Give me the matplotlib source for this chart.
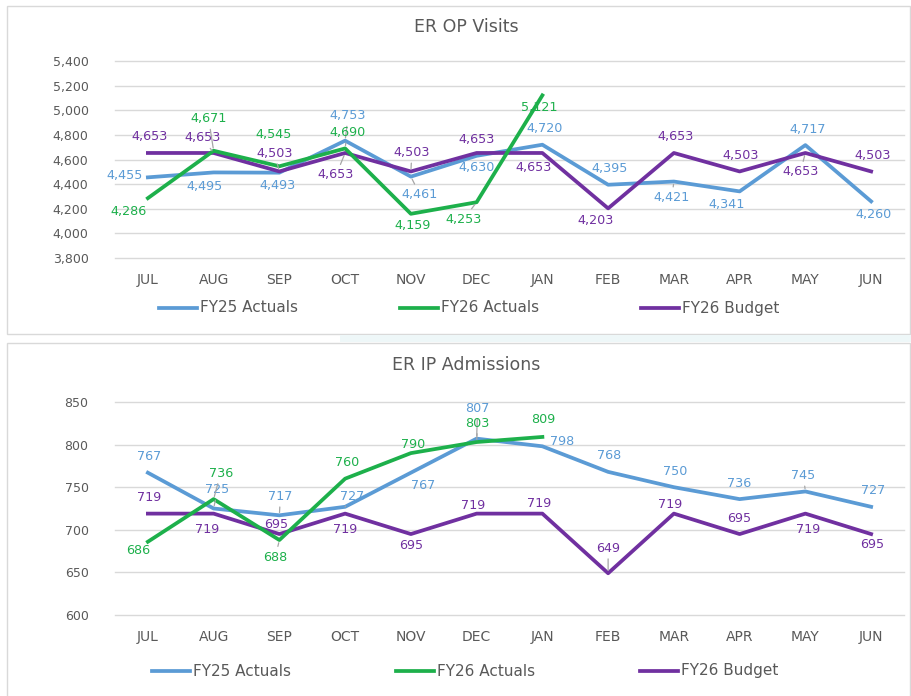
import matplotlib
matplotlib.use('Agg')
import matplotlib.pyplot as plt
from matplotlib.patches import Rectangle
from matplotlib.lines import Line2D

months = ['JUL','AUG','SEP','OCT','NOV','DEC','JAN','FEB','MAR','APR','MAY','JUN']

op_fy25 = [4455,4495,4493,4753,4461,4630,4720,4395,4421,4341,4717,4260]
op_fy26 = [4286,4671,4545,4690,4159,4253,5121]
op_budget = [4653,4653,4503,4653,4503,4653,4653,4203,4653,4503,4653,4503]

ip_fy25 = [767,725,717,727,767,807,798,768,750,736,745,727]
ip_fy26 = [686,736,688,760,790,803,809]
ip_budget = [719,719,695,719,695,719,719,649,719,695,719,695]

op_ticks = [3800,4000,4200,4400,4600,4800,5000,5200,5400]
ip_ticks = [600,650,700,750,800,850]

blue = '#5B9BD5'
green = '#1DB04B'
purple = '#7030A0'
grey = '#595959'

# label offsets in pixels (dx, dy), leaders = indices with a leader line
op_off = {
    'fy25': [(-23,2),(-9,-14),(-2,-13),(3,25),(9,-18),(0,-12),(2,16),(1,16),(-2,-16),(-13,-13),(2,16),(2,-13)],
    'fy26': [(-19,-13),(-5,32),(-6,32),(2,16),(2,-12),(-13,-17),(-3,-12)],
    'bud': [(2,16),(-11,15),(-5,18),(-9,-22),(1,19),(0,13),(-9,-15),(-13,-12),(2,16),(1,16),(-5,-19),(2,16)],
}
op_lead = {'fy25': [3,4,8], 'fy26': [1,3,5], 'bud': [1,2,3,4,10]}

ip_off = {
    'fy25': [(1,16),(4,19),(1,19),(7,10),(12,-13),(1,30),(20,5),(1,16),(1,16),(0,16),(-2,16),(2,16)],
    'fy26': [(-10,-9),(7,26),(-4,-17),(2,16),(2,9),(1,19),(1,17)],
    'bud': [(1,16),(-7,-16),(-3,10),(0,-16),(0,-11),(-3,8),(-3,10),(0,25),(-4,9),(0,16),(3,-16),(1,-10)],
}
ip_lead = {'fy25': [1,2,3,5,10], 'fy26': [1,2,5], 'bud': [7]}

W, H = 912, 696
fig = plt.figure(figsize=(W/100, H/100), dpi=100)
fig.patch.set_facecolor('white')

# panel frames
fig.add_artist(Rectangle((7/W, 1-334/H), 903/W, 328/H, transform=fig.transFigure,
                         fill=False, edgecolor='#D9D9D9', lw=1))
fig.add_artist(Rectangle((340/W, 1-342/H), 572/W, 7/H, transform=fig.transFigure,
                         facecolor='#EEF7F8', edgecolor='none'))
fig.add_artist(Rectangle((7/W, -0.01), 903/W, 1-343/H+0.01, transform=fig.transFigure,
                         fill=False, edgecolor='#D9D9D9', lw=1))


def draw_panel(top_px, bot_px, title, title_y, ticks, fy25, fy26, bud, offs, leads, legend_y, leg_x, fmt):
    ax = fig.add_axes([115/W, 1-bot_px/H, 789/W, (bot_px-top_px)/H])
    x = list(range(len(months)))
    ax.plot(x, fy25, color=blue, lw=2.7, solid_joinstyle='round', zorder=3)
    ax.plot(x[:len(fy26)], fy26, color=green, lw=2.7, solid_joinstyle='round', zorder=4)
    ax.plot(x, bud, color=purple, lw=2.7, solid_joinstyle='round', zorder=3)
    ax.set_xlim(-0.5, 11.5)
    ax.set_ylim(ticks[0], ticks[-1])
    ax.set_yticks(ticks)
    ax.set_yticklabels([fmt(t) for t in ticks])
    ax.set_xticks(x)
    ax.set_xticklabels(months)
    for s in ax.spines.values():
        s.set_visible(False)
    ax.grid(axis='y', color='#D9D9D9', lw=1)
    for gl in ax.get_ygridlines():
        gl.set_clip_on(False)
    ax.set_axisbelow(True)
    ax.tick_params(axis='y', length=0, pad=19, labelsize=9, labelcolor=grey)
    ax.tick_params(axis='x', length=0, pad=11, labelsize=10, labelcolor=grey)

    for key, vals, col in [('fy25', fy25, blue), ('bud', bud, purple), ('fy26', fy26, green)]:
        for i, v in enumerate(vals):
            dx, dy = offs[key][i]
            ap = None
            if i in leads[key]:
                ap = dict(arrowstyle='-', color='#A6A6A6', lw=0.9, shrinkA=1, shrinkB=2)
            ax.annotate(fmt(v), (i, v), xytext=(dx, dy), textcoords='offset pixels',
                        ha='center', va='center', fontsize=9.2, color=col,
                        arrowprops=ap, annotation_clip=False, zorder=5)

    fig.text(466/W, 1-title_y/H, title, ha='center', va='center', fontsize=12.5, color=grey)

    names = ['FY25 Actuals', 'FY26 Actuals', 'FY26 Budget']
    cols = [blue, green, purple]
    for k in range(3):
        x0 = leg_x[k]
        fig.add_artist(Line2D([x0/W, (x0+38)/W], [1-legend_y/H, 1-legend_y/H],
                              transform=fig.transFigure, color=cols[k], lw=2.7))
        fig.text((x0+41)/W, 1-legend_y/H, names[k], ha='left', va='center',
                 fontsize=11, color=grey)
    return ax


draw_panel(61, 258, 'ER OP Visits', 27, op_ticks, op_fy25, op_fy26, op_budget,
           op_off, op_lead, 308, [159, 400, 641], lambda v: f'{v:,}')
draw_panel(402, 615, 'ER IP Admissions', 365, ip_ticks, ip_fy25, ip_fy26, ip_budget,
           ip_off, ip_lead, 671, [152, 396, 640], lambda v: f'{v}')

plt.savefig('out.png', dpi=100)
